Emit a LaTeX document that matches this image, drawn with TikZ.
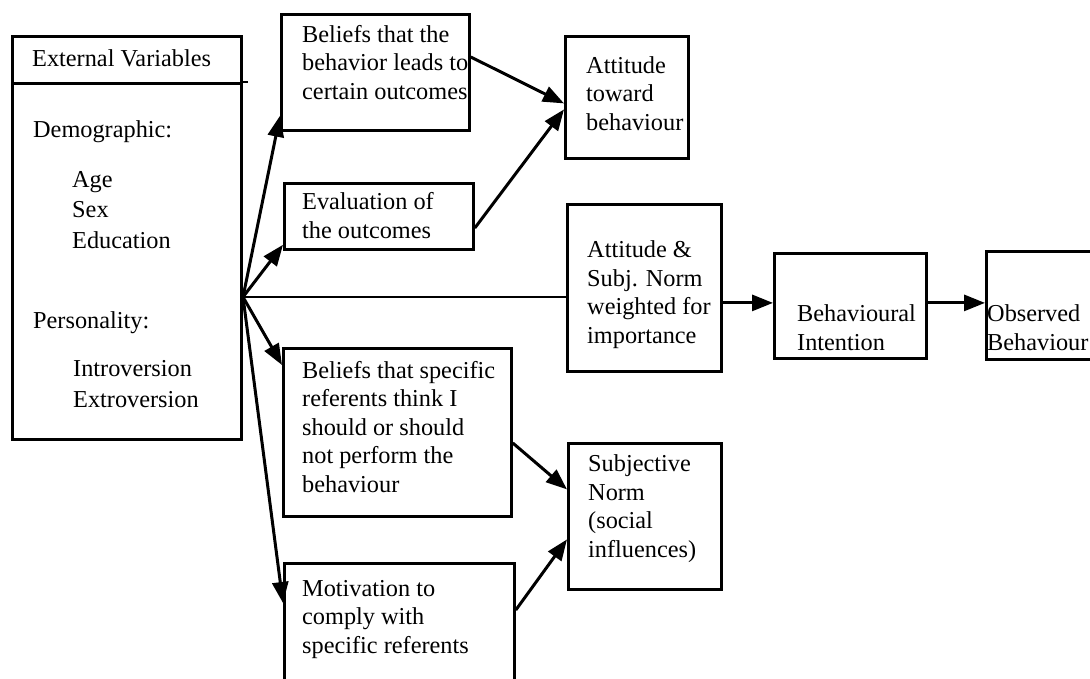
\documentclass[tikz,border=0pt]{standalone}
\usepackage{fontspec}
\setmainfont{Liberation Serif}
\usetikzlibrary{arrows.meta,calc}
\begin{document}
\begin{tikzpicture}[x=1pt,y=-1pt,
  box/.style={draw, line width=2.8pt, inner sep=0pt, anchor=north west},
  txt/.style={inner sep=0pt, anchor=base west, align=left, font=\fontsize{24.3}{28.5}\selectfont},
  txtw/.style={txt, font=\fontsize{24.3}{30.5}\selectfont},
  arr/.style={line width=3pt, -{Triangle[length=21pt,width=16pt]}},
  link/.style={line width=2.4pt}]
\useasboundingbox (0,0) rectangle (1090,678);
\clip (0,0) rectangle (1090,678);
% External variables (anchors: baseline of the last line)
\node[box, minimum width=229, minimum height=47] (evh) at (11,35) {};
\node[box, minimum width=229, minimum height=356] (evb) at (11,82) {};
\draw[line width=2.4pt] (evb.north east) -- ++(5,0);
\node[txt] (evht) at (32,66) {External Variables};
\node[txt] (dem) at (33,137) {Demographic:};
\node[txtw] (ase) at (72,248) {Age\\Sex\\Education};
\node[txt] (per) at (33,328) {Personality:};
\node[txtw] (ie) at (73,407) {Introversion\\Extroversion};
% middle column
\node[box, minimum width=188, minimum height=116] (b1) at (280,13) {};
\node[txt] (b1t) at (302,99) {Beliefs that the\\behavior leads to\\certain outcomes};
\node[box, minimum width=189, minimum height=66] (ev) at (283,182) {};
\node[txt] (evt) at (302,238) {Evaluation of\\the outcomes};
\node[box, minimum width=228, minimum height=168] (b3) at (282,347) {};
\node[txt] (b3t) at (302,492) {Beliefs that specific\\referents think I\\should or should\\not perform the\\behaviour};
\node[box, minimum width=230, minimum height=140] (mo) at (283,562) {};
\node[txt] (mot) at (302,653) {Motivation to\\comply with\\specific referents};
% right column
\node[box, minimum width=123, minimum height=122] (at) at (564,35) {};
\node[txt] (att) at (586,130) {Attitude\\toward\\behaviour};
\node[box, minimum width=154, minimum height=167] (as) at (566,203) {};
\node[txt] (ast) at (587,343) {Attitude \&\\Subj. Norm\\weighted for\\importance};
\node[box, minimum width=153, minimum height=146] (sn) at (567,442) {};
\node[txt] (snt) at (588,557) {Subjective\\Norm\\(social\\influences)};
\node[box, minimum width=152, minimum height=105] (bi) at (773,252) {};
\node[txt] (bit) at (797,350) {Behavioural\\Intention};
\node[box, minimum width=130, minimum height=108] (ob) at (985,250) {};
\node[txt] (obt) at (987,350) {Observed\\Behaviour};
% connectors
\coordinate (hub) at (243,297);
\draw[arr] (hub) -- ([yshift=16pt]b1.south west);
\draw[arr] (hub) -- ([yshift=6pt]ev.south west);
\draw[arr] (hub) -- ([yshift=-18pt]b3.north west);
\draw[arr] (hub) -- ([yshift=-41pt]mo.north west);
\draw[link] (hub) -- (hub -| as.west);
\draw[arr] ([yshift=-44pt]b1.north east) -- ([yshift=-6pt]at.west);
\draw[arr] ([yshift=-46pt]ev.north east) -- ([yshift=-12pt]at.west);
\draw[arr] ([yshift=-96pt]b3.north east) -- ([yshift=27pt]sn.west);
\draw[arr] ([yshift=-48pt]mo.north east) -- ([yshift=-23pt]sn.west);
\draw[arr] ([yshift=3pt]bi.west -| as.east) -- ([yshift=3pt]bi.west);
\draw[arr] ([yshift=3pt]bi.east) -- ([yshift=3pt]bi.east -| ob.west);
\end{tikzpicture}
\end{document}
